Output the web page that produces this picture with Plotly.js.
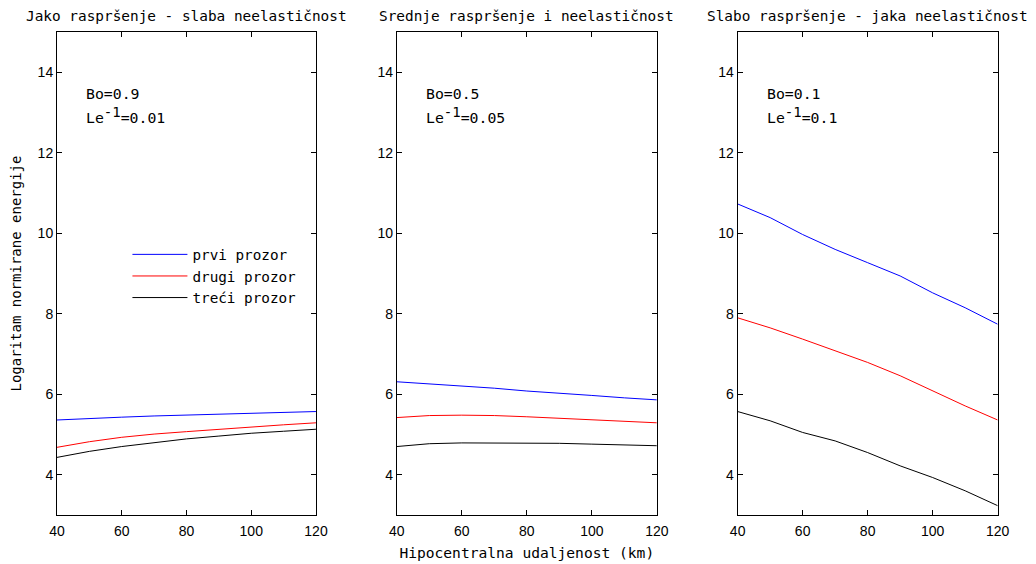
<!DOCTYPE html>
<html><head><meta charset="utf-8">
<script src="https://cdn.plot.ly/plotly-3.0.1.min.js"></script>
<style>body{margin:0;background:#fff}#c{width:1036px;height:564px}</style>
</head><body><div id="c"></div>
<script>
const distance = [40, 50, 60, 70, 80, 90, 100, 110, 120];
const seriesNames = ["prvi prozor", "drugi prozor", "treći prozor"];
const seriesColors = ["#0000ff", "#ff0000", "#000000"];
const panelTitles = ["Jako raspršenje - slaba neelastičnost", "Srednje raspršenje i neelastičnost", "Slabo raspršenje - jaka neelastičnost"];
const boValues = ["0.9", "0.5", "0.1"];
const leValues = ["0.01", "0.05", "0.1"];
// panel 1
const p1First  = [5.36, 5.40, 5.43, 5.46, 5.48, 5.50, 5.52, 5.55, 5.57];
const p1Second = [4.68, 4.82, 4.93, 5.01, 5.07, 5.13, 5.19, 5.24, 5.29];
const p1Third  = [4.43, 4.58, 4.70, 4.80, 4.89, 4.96, 5.03, 5.08, 5.13];
// panel 2
const p2First  = [6.31, 6.26, 6.21, 6.15, 6.08, 6.03, 5.97, 5.91, 5.86];
const p2Second = [5.42, 5.47, 5.48, 5.47, 5.44, 5.40, 5.36, 5.33, 5.29];
const p2Third  = [4.70, 4.77, 4.79, 4.79, 4.79, 4.78, 4.76, 4.74, 4.72];
// panel 3
const p3First  = [10.73, 10.39, 9.97, 9.60, 9.27, 8.94, 8.52, 8.15, 7.74];
const p3Second = [7.90, 7.65, 7.37, 7.08, 6.79, 6.46, 6.08, 5.71, 5.36];
const p3Third  = [5.57, 5.34, 5.05, 4.84, 4.55, 4.22, 3.93, 3.60, 3.23];
const xTicks = [40, 60, 80, 100, 120];
const yTicks = [4, 6, 8, 10, 12, 14];
const xLabel = "Hipocentralna udaljenost (km)";
const yLabel = "Logaritam normirane energije";

const panels = [[p1First, p1Second, p1Third], [p2First, p2Second, p2Third], [p3First, p3Second, p3Third]];
const mono = "DejaVu Sans Mono, monospace";
const data = [];
panels.forEach((p, i) => {
  p.forEach((ys, j) => {
    data.push({
      x: distance, y: ys, type: "scatter", mode: "lines",
      name: seriesNames[j], line: {color: seriesColors[j], width: 1},
      xaxis: "x" + (i ? i + 1 : ""), yaxis: "y" + (i ? i + 1 : ""),
      showlegend: i === 0, hoverinfo: "skip"
    });
  });
});
const xDom = [[0.055, 0.305], [0.383, 0.634], [0.712, 0.963]];
const yDom = [0.087, 0.943];
const layout = {
  width: 1036, height: 564, margin: {l: 0, r: 0, t: 0, b: 0},
  paper_bgcolor: "#fff", plot_bgcolor: "#fff",
  font: {family: "Liberation Sans, Arial, sans-serif", size: 13, color: "#000"},
  showlegend: true,
  legend: {x: 0.123, y: 0.577, xanchor: "left", yanchor: "top", bgcolor: "rgba(0,0,0,0)",
           font: {family: mono, size: 14.3}, tracegroupgap: 0, itemwidth: 55},
  annotations: [], shapes: []
};
for (let i = 0; i < 3; i++) {
  const s = i ? i + 1 : "";
  layout["xaxis" + s] = {domain: xDom[i], range: [40, 120], tickvals: xTicks, ticktext: xTicks.map(String),
    ticks: "inside", ticklen: 5, tickcolor: "#000", showline: true, mirror: "allticks", linecolor: "#000", linewidth: 1,
    showgrid: false, zeroline: false, anchor: "y" + s, fixedrange: true, tickfont: {size: 14}, ticklabelstandoff: 3};
  layout["yaxis" + s] = {domain: yDom, range: [3, 15], tickvals: yTicks, ticktext: yTicks.map(String),
    ticks: "inside", ticklen: 5, tickcolor: "#000", showline: true, mirror: "allticks", linecolor: "#000", linewidth: 1,
    showgrid: false, zeroline: false, anchor: "x" + s, fixedrange: true, tickfont: {size: 14}};
  const cx = (xDom[i][0] + xDom[i][1]) / 2;
  layout.annotations.push({text: panelTitles[i], xref: "paper", yref: "paper", x: cx, y: 0.972,
    xanchor: "center", yanchor: "middle", showarrow: false, font: {family: mono, size: 14.4}});
  layout.annotations.push({text: "Bo=" + boValues[i],
    xref: "x" + s, yref: "y" + s, x: 48.3, y: 13.48, xanchor: "left", yanchor: "middle", align: "left",
    showarrow: false, font: {family: mono, size: 14.8}});
  layout.annotations.push({text: "Le<sup><span style=\"font-size:14px\">-1</span></sup>=" + leValues[i],
    xref: "x" + s, yref: "y" + s, x: 48.3, y: 12.95, xanchor: "left", yanchor: "middle", align: "left",
    showarrow: false, font: {family: mono, size: 14.8}});
}
layout.xaxis2.title = {text: xLabel, font: {family: mono, size: 14.6}, standoff: 10};
layout.yaxis.title = {text: yLabel, font: {family: mono, size: 14}, standoff: 12};
Plotly.newPlot("c", data, layout, {staticPlot: true});
</script></body></html>
